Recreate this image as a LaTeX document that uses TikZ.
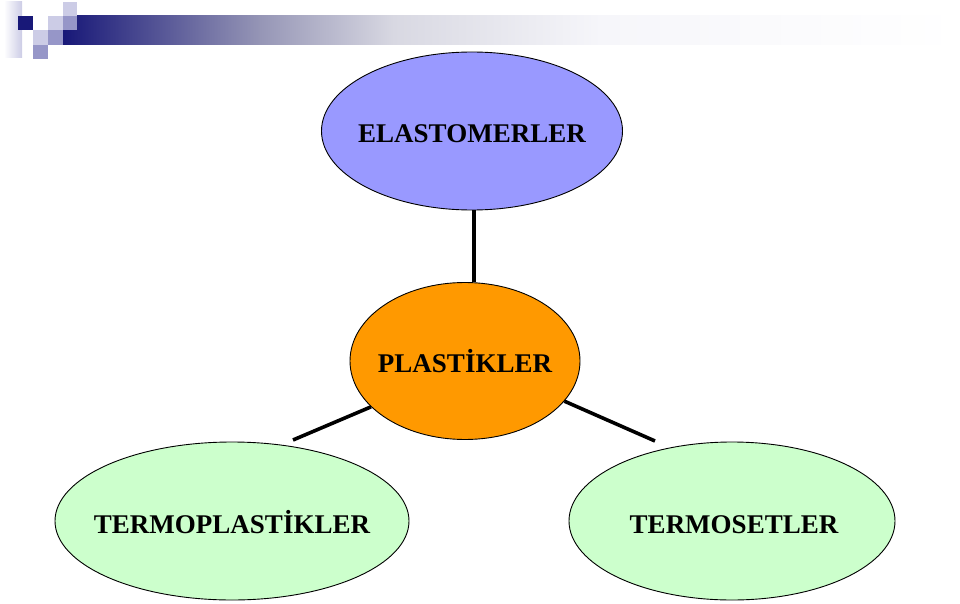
\documentclass[tikz,border=0pt]{standalone}
\usepackage{fontspec}
\setmainfont{Liberation Serif}
\usetikzlibrary{shapes.geometric}
\definecolor{navyd}{RGB}{24,24,120}
\definecolor{barmid}{RGB}{150,150,182}
\definecolor{barlt}{RGB}{216,216,226}
\definecolor{barwh}{RGB}{246,246,250}
\definecolor{lightsq}{RGB}{204,204,230}
\definecolor{medsq}{RGB}{150,150,200}
\definecolor{elastc}{RGB}{153,153,255}
\definecolor{plastc}{RGB}{255,153,0}
\definecolor{greenc}{RGB}{204,255,204}
\tikzset{
  blob/.style={ellipse, draw=black, line width=0.9pt, inner sep=0pt},
  lbl/.style={anchor=base, font=\bfseries\fontsize{27}{30}\selectfont, inner sep=0pt},
  conn/.style={line width=3.6pt, black}
}
\begin{document}
\begin{tikzpicture}[x=1pt,y=-1pt]
\useasboundingbox (0,0) rectangle (960,604);
% decoration
\shade[left color=navyd, right color=barmid] (63,16) rectangle (261,45);
\shade[left color=barmid, right color=barlt] (260,16) rectangle (394,45);
\shade[left color=barlt, right color=barwh] (393,16) rectangle (601,45);
\shade[left color=barwh, right color=white] (600,16) rectangle (960,45);
\shade[left color=white, right color=lightsq] (4,2) rectangle (22,58);
\fill[navyd] (18,16) rectangle (33,30);
\fill[lightsq] (48,16) rectangle (63,30);
\fill[lightsq] (63,2) rectangle (77,16);
\fill[medsq] (63,16) rectangle (77,30);
\fill[lightsq] (33,30) rectangle (48,45);
\fill[medsq] (48,30) rectangle (63,45);
\fill[medsq] (33,45) rectangle (48,59);
% ellipses
\node[blob, fill=elastc, minimum width=301, minimum height=158] (elast) at (472,131) {};
\node[blob, fill=plastc, minimum width=230, minimum height=157] (plast) at (465,361) {};
\node[blob, fill=greenc, minimum width=354, minimum height=158] (tplast) at (232,521) {};
\node[blob, fill=greenc, minimum width=326, minimum height=158] (tset) at (732,521) {};
% labels
\node[lbl] (t1) at (472,143) {ELASTOMERLER};
\node[lbl] (t2) at (465,372) {PLASTİKLER};
\node[lbl] (t3) at (232,533) {TERMOPLASTİKLER};
\node[lbl] (t4) at (734,533) {TERMOSETLER};
% connectors
\coordinate (v1) at (474,210);
\coordinate (lfree) at (293,440);
\coordinate (rfree) at (655,441);
\draw[conn] (v1) -- (v1 |- plast.north);
\draw[conn] (plast.206) -- (lfree);
\draw[conn] (plast.-22) -- (rfree);
\end{tikzpicture}
\end{document}
